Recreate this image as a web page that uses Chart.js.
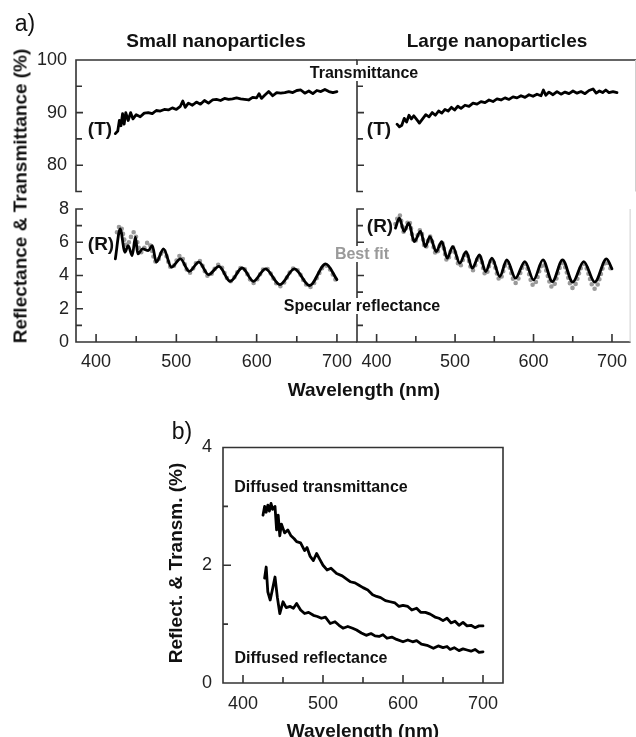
<!DOCTYPE html>
<html><head><meta charset="utf-8">
<script src="https://cdn.jsdelivr.net/npm/chart.js@4.4.1/dist/chart.umd.min.js"></script>
<style>
html,body{margin:0;padding:0;background:#fff;overflow:hidden;}
#wrap{position:relative;width:636px;height:737px;overflow:hidden;}
canvas{position:absolute;left:0;top:0;}
.t{position:absolute;white-space:nowrap;font-family:"Liberation Sans",Arial,Helvetica,sans-serif;color:#111;line-height:1;transform:translate(-50%,-50%);}
.b{font-weight:bold;}
.bg{background:#fff;padding:0 2px;}
.rot{transform:translate(-50%,-50%) rotate(-90deg);}
</style></head><body><div id="wrap">
<canvas id="cTL" width="636" height="737"></canvas>
<canvas id="cBL" width="636" height="737"></canvas>
<canvas id="cTR" width="636" height="737"></canvas>
<canvas id="cBR" width="636" height="737"></canvas>
<canvas id="cB" width="636" height="737"></canvas>
</div>
<script>
// ---------------- data ----------------
// Transmittance, small nanoparticles
const tSmallWl = [424,427,429,431,433,435,437,440,443,446,450,455,460,465,470,475,480,485,490,495,500,505,508,511,515,520,525,530,535,540,545,550,555,560,565,570,575,580,585,590,595,600,603,606,610,615,620,625,630,635,640,645,650,655,660,665,670,675,680,685,690,695,700];
const tSmall = [86.0,86.5,88.5,87.5,89.8,87.8,90.0,88.5,90.0,88.8,89.6,89.2,89.9,90.0,89.8,90.4,90.3,90.6,90.5,90.9,90.6,91.2,92.2,91.0,91.8,91.4,92.0,91.6,92.3,91.8,92.4,92.5,92.3,92.7,92.5,92.6,92.8,92.6,92.5,92.4,92.9,92.8,93.6,92.7,93.3,94.0,93.2,93.8,93.7,93.8,94.0,93.8,94.2,94.3,93.7,94.1,93.6,94.2,94.0,94.4,94.0,93.8,94.0];
// Transmittance, large nanoparticles
const tLargeWl = [425,428,431,434,437,440,443,446,450,453,457,461,465,469,473,477,481,485,489,493,497,501,505,510,515,520,525,530,535,540,545,550,555,560,565,570,575,580,585,590,595,600,605,608,611,615,620,625,630,635,640,645,650,655,660,665,670,674,678,682,686,690,695,700];
const tLarge = [87.8,87.3,87.6,88.9,88.2,89.5,88.8,89.4,88.6,88.0,88.8,89.6,89.2,90.0,89.5,90.3,89.9,90.6,90.3,91.0,90.5,91.2,90.8,91.4,91.2,91.8,91.6,92.1,91.9,92.4,92.1,92.6,92.4,92.8,92.5,93.0,92.8,93.2,92.9,93.4,93.1,93.5,93.2,94.3,93.3,93.9,93.4,94.0,93.5,93.9,93.6,94.1,93.7,94.0,93.6,94.2,94.5,93.7,94.1,93.8,94.3,93.8,94.0,93.8];
// Specular reflectance, small nanoparticles (measured) and best fit
const rSmallWl = [424,430,436,440,445,449,452,458,465,470,475,484,494,505,516,528,540,553,567,582,596,611,629,647,666,686,700];
const rSmall = [5.0,6.8,5.4,5.8,5.2,6.3,5.3,5.6,5.5,5.8,4.8,5.6,4.5,5.0,4.25,4.8,4.05,4.55,3.65,4.45,3.65,4.4,3.45,4.4,3.4,4.7,3.75];
const fitSmallWl = [426,430,438,447,456,465,475,484,494,505,516,528,540,553,567,582,596,611,629,647,666,686,700];
const fitSmall = [6.6,7.0,5.8,6.6,5.4,6.0,4.8,5.5,4.45,5.2,4.15,4.9,3.95,4.65,3.65,4.5,3.55,4.45,3.35,4.45,3.3,4.6,3.6];
// Specular reflectance, large nanoparticles (measured) and best fit
const rLargeWl = [424,429,435,441,448,456,462,468,476,483,490,497,506,514,522,531,539,547,557,566,577,589,600,612,624,637,650,664,678,693,700];
const rLarge = [6.85,7.45,6.65,7.15,6.04,6.65,5.74,6.34,5.44,6.04,5.04,5.74,4.74,5.44,4.44,5.24,4.24,5.04,3.94,4.94,3.84,4.84,3.74,4.94,3.63,4.94,3.6,4.84,3.6,5.0,4.4];
const fitLargeWl = [424,429,435,441,448,456,462,468,476,483,490,497,506,514,522,531,539,547,557,566,577,589,600,612,624,637,650,664,678,693,700];
const fitLarge = [7.1,7.65,6.6,7.3,6.0,6.75,5.65,6.35,5.3,6.0,4.9,5.7,4.55,5.35,4.3,5.15,4.05,4.95,3.75,4.8,3.55,4.7,3.4,4.7,3.3,4.75,3.25,4.7,3.2,4.85,4.2];
// Diffused transmittance / reflectance
const dtWl = [425,427,429,431,433,435,437,440,442,444,446,448,452,456,460,464,467,472,477,480,484,488,492,496,500,505,510,517,524,530,534,540,545,550,556,562,567,572,578,584,590,595,600,606,611,617,622,628,634,640,645,650,655,660,665,670,675,680,685,690,695,700];
const dT = [2.85,3.0,2.9,3.02,2.92,3.05,2.95,3.0,2.6,2.85,2.5,2.7,2.55,2.6,2.5,2.45,2.4,2.38,2.25,2.3,2.15,2.08,2.2,2.1,2.0,1.92,1.95,1.86,1.82,1.76,1.72,1.7,1.66,1.62,1.58,1.5,1.47,1.45,1.4,1.38,1.36,1.3,1.32,1.3,1.24,1.27,1.2,1.2,1.17,1.12,1.1,1.06,1.1,1.02,1.05,0.98,1.03,0.97,0.98,0.94,0.97,0.97];
const drWl = [427,429,431,434,437,440,443,446,450,454,459,463,467,472,477,482,488,493,498,503,509,515,520,525,531,537,542,548,554,560,565,570,575,580,586,592,600,606,612,617,623,630,638,644,650,655,659,664,670,675,680,685,690,695,700];
const dR = [1.78,1.97,1.55,1.41,1.6,1.8,1.45,1.18,1.38,1.28,1.3,1.27,1.35,1.24,1.18,1.2,1.15,1.13,1.1,1.12,1.01,1.04,0.98,0.93,0.96,0.93,0.9,0.85,0.81,0.84,0.8,0.79,0.82,0.76,0.78,0.74,0.7,0.73,0.7,0.72,0.66,0.64,0.59,0.63,0.6,0.62,0.57,0.6,0.55,0.58,0.56,0.54,0.57,0.52,0.53];

// ---------------- ticks ----------------
const xTickVals = [400,450,500,550,600,650,700];
const xTickLabels = ['400','','500','','600','','700'];
const yTopTickVals = [75,80,85,90,95,100];
const yTopTickLabels = ['','80','','90','','100'];
const yBotTickVals = [0,1,2,3,4,5,6,7,8];
const yBotTickLabels = ['0','','2','','4','','6','','8'];
const yBTickVals = [0,1,2,3,4];
const yBTickLabels = ['0','','2','','4'];

// ---------------- rendering ----------------
const W = 636, H = 737;
const YW = 50, XH = 30;   // space reserved for tick labels
const FONT = '"Liberation Sans", Arial, Helvetica, sans-serif';
const AXIS = '#333';
const toXY = (xs, ys) => xs.map((x, i) => ({x, y: ys[i]}));

const axisCfg = {};
const axisPlugin = {
  id: 'axesDraw',
  afterDatasetsDraw(chart) {
    const o = axisCfg[chart.canvas.id];
    const {ctx, chartArea: a} = chart;
    const xs = chart.scales.x, ys = chart.scales.y;
    ctx.save();
    ctx.strokeStyle = AXIS; ctx.lineWidth = 1.6;
    ctx.beginPath();
    const s = o.sides;
    if (s.includes('left')) { ctx.moveTo(a.left, a.top - 0.8); ctx.lineTo(a.left, a.bottom + 0.8); }
    if (s.includes('right')) { ctx.moveTo(a.right, a.top - 0.8); ctx.lineTo(a.right, a.bottom + 0.8); }
    if (s.includes('top')) { ctx.moveTo(a.left - 0.8, a.top); ctx.lineTo(a.right, a.top); }
    if (s.includes('bottom')) { ctx.moveTo(a.left - 0.8, a.bottom); ctx.lineTo(a.right, a.bottom); }
    if (o.yTicks) o.yTicks.forEach((v, i) => {
      const p = ys.getPixelForValue(v);
      const len = o.yLabels[i] ? o.yMajor : o.yMinor;
      ctx.moveTo(a.left, p); ctx.lineTo(a.left + len, p);
    });
    if (o.xTicks) o.xTicks.forEach((v, i) => {
      const p = xs.getPixelForValue(v);
      const len = xTickLabels[i] ? 8 : 6;
      ctx.moveTo(p, a.bottom); ctx.lineTo(p, a.bottom - len);
    });
    ctx.stroke();
    if (o.faintRight) {
      ctx.strokeStyle = '#cfcfcf'; ctx.lineWidth = 1;
      ctx.beginPath(); ctx.moveTo(a.right - 0.5, a.top); ctx.lineTo(a.right - 0.5, a.bottom); ctx.stroke();
    }
    ctx.restore();
  }
};

function lineDs(xs, ys, smooth) {
  return {data: toXY(xs, ys), showLine: true, borderColor: '#000', borderWidth: 2.8,
    pointRadius: 0, fill: false, tension: 0, cubicInterpolationMode: smooth ? 'monotone' : 'default',
    borderJoinStyle: 'round', borderCapStyle: 'round'};
}
function fitDs(xs, ys) {
  return {data: toXY(xs, ys), showLine: true, borderColor: '#9a9a9a', borderWidth: 4.6,
    borderDash: [0, 5.5], borderCapStyle: 'round', pointRadius: 0, fill: false,
    cubicInterpolationMode: 'monotone'};
}

function makeChart(id, area, xr, yr, datasets, o) {
  const [L, T, R, B] = area;
  axisCfg[id] = o;
  const tickFont = {family: FONT, size: 18};
  const yw = o.yLabelsOn ? YW : 0;
  const xh = o.xLabelsOn ? XH : 0;
  return new Chart(document.getElementById(id), {
    type: 'scatter',
    data: {datasets},
    options: {
      responsive: false, animation: false, devicePixelRatio: 1,
      layout: {padding: {left: L - yw, top: T, right: W - R, bottom: H - B - xh}},
      plugins: {legend: {display: false}, tooltip: {enabled: false}, title: {display: false}},
      events: [],
      scales: {
        x: {
          type: 'linear', min: xr[0], max: xr[1], display: !!o.xLabelsOn,
          grid: {display: false, drawTicks: false}, border: {display: false},
          afterBuildTicks: sc => { sc.ticks = xTickVals.map(v => ({value: v})); },
          afterFit: sc => { sc.height = xh; },
          ticks: {autoSkip: false, maxRotation: 0, minRotation: 0, padding: o.xPad || 9,
            font: tickFont, color: '#222', callback: (v, i) => xTickLabels[i]}
        },
        y: {
          type: 'linear', min: yr[0], max: yr[1], display: !!o.yLabelsOn,
          grid: {display: false, drawTicks: false}, border: {display: false},
          afterBuildTicks: sc => { sc.ticks = o.yTicks.map(v => ({value: v})); },
          afterFit: sc => { sc.width = yw; },
          ticks: {autoSkip: false, padding: o.yPad || 8, font: tickFont, color: '#222',
            callback: (v, i) => o.yLabels[i]}
        }
      }
    },
    plugins: [axisPlugin]
  });
}

// panel a, small nanoparticles
makeChart('cTL', [76, 60, 357, 191.5], [375, 725], [75, 100],
  [lineDs(tSmallWl, tSmall, false)],
  {sides: ['left', 'top'], yTicks: yTopTickVals, yLabels: yTopTickLabels, yMajor: 7, yMinor: 6, yLabelsOn: true, yPad: 9});
makeChart('cBL', [76, 209, 357, 342], [375, 725], [0, 8],
  [lineDs(rSmallWl, rSmall, true), fitDs(fitSmallWl, fitSmall)],
  {sides: ['left', 'bottom'], yTicks: yBotTickVals, yLabels: yBotTickLabels, yMajor: 7, yMinor: 6, yLabelsOn: true,
   yPad: 7, xTicks: xTickVals, xLabelsOn: true, xPad: 9});
// panel a, large nanoparticles
makeChart('cTR', [357, 60, 636, 191.5], [375, 723.75], [75, 100],
  [lineDs(tLargeWl, tLarge, false)],
  {sides: ['left', 'top'], yTicks: yTopTickVals, yLabels: yTopTickLabels, yMajor: 7, yMinor: 6, faintRight: true});
makeChart('cBR', [357, 209, 636, 342], [375, 723.75], [0, 8],
  [lineDs(rLargeWl, rLarge, true), fitDs(fitLargeWl, fitLarge)],
  {sides: ['left', 'bottom'], yTicks: yBotTickVals, yLabels: yBotTickLabels, yMajor: 7, yMinor: 6,
   xTicks: xTickVals, xLabelsOn: true, xPad: 9, faintRight: true});
// panel b
makeChart('cB', [223, 447.5, 503, 683], [375, 725], [0, 4],
  [lineDs(dtWl, dT, false), lineDs(drWl, dR, false)],
  {sides: ['left', 'bottom', 'top', 'right'], yTicks: yBTickVals, yLabels: yBTickLabels, yMajor: 8, yMinor: 5, yLabelsOn: true,
   yPad: 11, xTicks: xTickVals, xLabelsOn: true, xPad: 10});

// ---------------- text ----------------
const wrap = document.getElementById('wrap');
function txt(s, x, y, size, cls, color) {
  const d = document.createElement('div');
  d.className = 't ' + (cls || '');
  d.textContent = s;
  d.style.left = x + 'px'; d.style.top = y + 'px';
  d.style.fontSize = size + 'px';
  if (color) d.style.color = color;
  wrap.appendChild(d);
}
txt('a)', 25, 23, 23, '');
txt('Small nanoparticles', 216, 40, 19, 'b');
txt('Large nanoparticles', 497, 40, 19, 'b');
txt('Transmittance', 364, 73, 16, 'b bg');
txt('(T)', 100, 128, 19, 'b');
txt('(T)', 379, 128, 19, 'b');
txt('(R)', 101, 243, 19, 'b');
txt('(R)', 380, 225, 19, 'b');
txt('Best fit', 362, 254, 16, 'b bg', '#9a9a9a');
txt('Specular reflectance', 362, 306, 16, 'b bg');
txt('Wavelength (nm)', 364, 389, 19, 'b');
txt('Reflectance & Transmittance (%)', 20, 196, 19, 'b rot');
txt('b)', 182, 431, 23, '');
txt('Reflect. & Transm. (%)', 175, 563, 19, 'b rot');
txt('Diffused transmittance', 321, 487, 16, 'b');
txt('Diffused reflectance', 311, 658, 16, 'b');
txt('Wavelength (nm)', 363, 730, 19, 'b');
</script></body></html>
